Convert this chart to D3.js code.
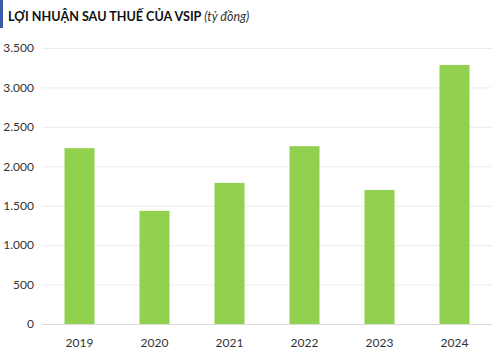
<!DOCTYPE html>
<html><head><meta charset="utf-8">
<script src="https://cdn.jsdelivr.net/npm/d3@7"></script>
<style>body{margin:0;background:#fff}svg{display:block}</style>
</head><body>
<script>
const years = ["2019","2020","2021","2022","2023","2024"];
const profit = [2230, 1435, 1790, 2255, 1700, 3285];
const yTicks = [0,500,1000,1500,2000,2500,3000,3500];

const W=500,H=350;
const svg=d3.select("body").append("svg").attr("width",W).attr("height",H);
const x=d3.scaleBand().domain(years).range([42,492]).paddingInner(0.6).paddingOuter(0.3);
const y=d3.scaleLinear().domain([0,3500]).range([324,48]);

svg.append("rect").attr("x",0).attr("y",0).attr("width",3).attr("height",28).attr("fill","#3b5ba5");
const t=svg.append("text").attr("x",8).attr("y",21).attr("font-family","Lato, 'Open Sans', sans-serif").attr("fill","#111");
t.append("tspan").attr("font-size",12.6).attr("font-weight","bold").text("LỢI NHUẬN SAU THUẾ CỦA VSIP ");
t.append("tspan").attr("font-size",12.5).attr("font-style","italic").attr("fill","#333").text("(tỷ đồng)");

svg.append("g").selectAll("line").data(yTicks).join("line")
  .attr("x1",42).attr("x2",492).attr("y1",d=>y(d)+0.5).attr("y2",d=>y(d)+0.5)
  .attr("stroke",d=>d===0?"#d9d9d9":"#ececec").attr("stroke-width",1);

const ya=svg.append("g").attr("transform","translate(34,0)")
  .call(d3.axisLeft(y).tickValues(yTicks).tickSize(0).tickPadding(0).tickFormat(d=>d3.format(",")(d).replace(/,/g,".")));
ya.select(".domain").remove();
ya.selectAll("text").attr("font-family","Lato, sans-serif").attr("font-size",12).attr("fill","#333");

svg.append("g").selectAll("rect").data(years).join("rect")
  .attr("x",d=>x(d)).attr("width",x.bandwidth())
  .attr("y",(d,i)=>y(profit[i])).attr("height",(d,i)=>y(0)-y(profit[i]))
  .attr("fill","#92d050");

const xa=svg.append("g").attr("transform","translate(0,324)")
  .call(d3.axisBottom(x).tickSize(0).tickPadding(14));
xa.select(".domain").remove();
xa.selectAll("text").attr("font-family","Lato, sans-serif").attr("font-size",12).attr("fill","#333");
</script>
</body></html>
